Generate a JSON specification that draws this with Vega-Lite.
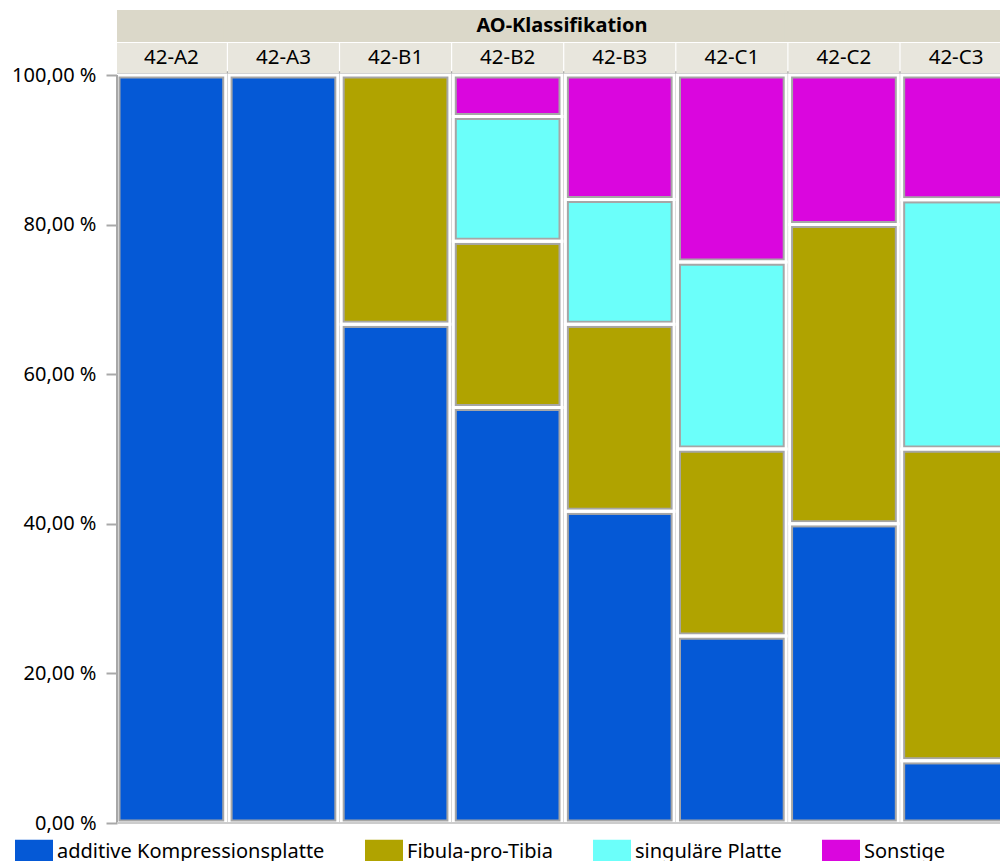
{
  "$schema": "https://vega.github.io/schema/vega-lite/v6.json",
  "autosize": {"type": "none"},
  "padding": {"left": 117, "top": 10, "right": 0, "bottom": 38},
  "width": 883,
  "height": 813,
  "background": "white",
  "config": {
    "view": {"stroke": null},
    "font": "Noto Sans",
    "text": {"font": "Noto Sans"}
  },
  "datasets": {
    "werte": [
      {"AO": "42-A2", "Versorgung": "additive Kompressionsplatte", "Nr": 1, "Anteil": 100},
      {"AO": "42-A3", "Versorgung": "additive Kompressionsplatte", "Nr": 1, "Anteil": 100},
      {"AO": "42-B1", "Versorgung": "additive Kompressionsplatte", "Nr": 1, "Anteil": 66.67},
      {"AO": "42-B1", "Versorgung": "Fibula-pro-Tibia", "Nr": 2, "Anteil": 33.33},
      {"AO": "42-B2", "Versorgung": "additive Kompressionsplatte", "Nr": 1, "Anteil": 55.56},
      {"AO": "42-B2", "Versorgung": "Fibula-pro-Tibia", "Nr": 2, "Anteil": 22.22},
      {"AO": "42-B2", "Versorgung": "singuläre Platte", "Nr": 3, "Anteil": 16.67},
      {"AO": "42-B2", "Versorgung": "Sonstige", "Nr": 4, "Anteil": 5.56},
      {"AO": "42-B3", "Versorgung": "additive Kompressionsplatte", "Nr": 1, "Anteil": 41.67},
      {"AO": "42-B3", "Versorgung": "Fibula-pro-Tibia", "Nr": 2, "Anteil": 25.0},
      {"AO": "42-B3", "Versorgung": "singuläre Platte", "Nr": 3, "Anteil": 16.67},
      {"AO": "42-B3", "Versorgung": "Sonstige", "Nr": 4, "Anteil": 16.67},
      {"AO": "42-C1", "Versorgung": "additive Kompressionsplatte", "Nr": 1, "Anteil": 25.0},
      {"AO": "42-C1", "Versorgung": "Fibula-pro-Tibia", "Nr": 2, "Anteil": 25.0},
      {"AO": "42-C1", "Versorgung": "singuläre Platte", "Nr": 3, "Anteil": 25.0},
      {"AO": "42-C1", "Versorgung": "Sonstige", "Nr": 4, "Anteil": 25.0},
      {"AO": "42-C2", "Versorgung": "additive Kompressionsplatte", "Nr": 1, "Anteil": 40.0},
      {"AO": "42-C2", "Versorgung": "Fibula-pro-Tibia", "Nr": 2, "Anteil": 40.0},
      {"AO": "42-C2", "Versorgung": "Sonstige", "Nr": 4, "Anteil": 20.0},
      {"AO": "42-C3", "Versorgung": "additive Kompressionsplatte", "Nr": 1, "Anteil": 8.33},
      {"AO": "42-C3", "Versorgung": "Fibula-pro-Tibia", "Nr": 2, "Anteil": 41.67},
      {"AO": "42-C3", "Versorgung": "singuläre Platte", "Nr": 3, "Anteil": 33.33},
      {"AO": "42-C3", "Versorgung": "Sonstige", "Nr": 4, "Anteil": 16.67}
    ],
    "ao": [
      {"AO": "42-A2"}, {"AO": "42-A3"}, {"AO": "42-B1"}, {"AO": "42-B2"},
      {"AO": "42-B3"}, {"AO": "42-C1"}, {"AO": "42-C2"}, {"AO": "42-C3"}
    ]
  },
  "layer": [
    {
      "data": {"name": "werte"},
      "mark": {"type": "bar", "clip": true, "stroke": "#a6a6a6", "strokeWidth": 7},
      "encoding": {
        "x": {
          "field": "AO", "type": "nominal",
          "scale": {
            "domain": ["42-A2", "42-A3", "42-B1", "42-B2", "42-B3", "42-C1", "42-C2", "42-C3"],
            "range": [0, 893.4],
            "paddingInner": 0.03,
            "paddingOuter": 0
          },
          "axis": null
        },
        "y": {
          "field": "Anteil", "type": "quantitative", "stack": "zero",
          "scale": {"domain": [0, 108.69], "nice": false, "zero": true},
          "axis": {
            "values": [0, 20, 40, 60, 80, 100],
            "labelExpr": "replace(format(datum.value, '.2f'), '.', ',') + ' %'",
            "labelFont": "Noto Sans",
            "labelFontSize": 20,
            "labelColor": "#000000",
            "labelPadding": 10,
            "tickSize": 11,
            "tickColor": "#a8a8a8",
            "tickWidth": 2,
            "domain": false,
            "grid": false,
            "title": null
          }
        },
        "color": {
          "field": "Versorgung", "type": "nominal",
          "scale": {
            "domain": ["additive Kompressionsplatte", "Fibula-pro-Tibia", "singuläre Platte", "Sonstige"],
            "range": ["#0559d6", "#b0a300", "#6bfffa", "#da06de"]
          },
          "legend": {
            "orient": "none",
            "legendX": -102,
            "legendY": 823,
            "direction": "horizontal",
            "title": null,
            "padding": 0,
            "symbolType": "M-1,-0.658H1V0.658H-1Z",
            "symbolSize": 1444,
            "symbolStrokeWidth": 0,
            "symbolOpacity": 1,
            "labelFont": "Noto Sans",
            "labelFontSize": 20,
            "labelColor": "#000000",
            "labelOffset": 4,
            "labelLimit": 400,
            "columnPadding": 40
          }
        },
        "order": {"field": "Nr", "type": "quantitative", "sort": "ascending"}
      }
    },
    {
      "data": {"name": "werte"},
      "mark": {"type": "bar", "clip": true, "fill": null, "fillOpacity": 0, "stroke": "#ffffff", "strokeWidth": 3},
      "encoding": {
        "x": {"field": "AO", "type": "nominal"},
        "y": {"field": "Anteil", "type": "quantitative", "stack": "zero"},
        "detail": {"field": "Versorgung", "type": "nominal"},
        "order": {"field": "Nr", "type": "quantitative", "sort": "ascending"}
      }
    },
    {
      "data": {"name": "ao"},
      "mark": {"type": "bar", "clip": true, "color": "#dbd8c9", "width": {"band": 1.1}},
      "encoding": {
        "x": {"field": "AO", "type": "nominal"},
        "y": {"datum": 104.41},
        "y2": {"datum": 108.69}
      }
    },
    {
      "data": {"name": "ao"},
      "mark": {"type": "bar", "clip": true, "color": "#e8e6dd", "width": {"band": 1.02}},
      "encoding": {
        "x": {"field": "AO", "type": "nominal"},
        "y": {"datum": 100.27},
        "y2": {"datum": 104.28}
      }
    },
    {
      "data": {"name": "ao"},
      "mark": {"type": "text", "clip": true, "font": "Noto Sans", "fontSize": 20.5, "color": "#000000", "baseline": "middle", "align": "center"},
      "encoding": {
        "x": {"field": "AO", "type": "nominal"},
        "y": {"datum": 102.27},
        "text": {"field": "AO"}
      }
    },
    {
      "data": {"values": [{"Titel": "AO-Klassifikation"}]},
      "mark": {"type": "text", "font": "Noto Sans", "fontSize": 20, "fontWeight": "bold", "color": "#000000", "baseline": "middle", "align": "center"},
      "encoding": {
        "x": {"datum": "42-B2", "bandPosition": 1},
        "y": {"datum": 106.55},
        "text": {"field": "Titel"}
      }
    },
    {
      "data": {"values": [{}]},
      "mark": {"type": "rule", "color": "#a8a8a8", "strokeWidth": 2},
      "encoding": {
        "x": {"datum": "42-A2", "bandPosition": 0},
        "y": {"datum": 0},
        "y2": {"datum": 100}
      }
    },
    {
      "data": {"values": [{}]},
      "mark": {"type": "rule", "color": "#cccccc", "strokeWidth": 2},
      "encoding": {
        "y": {"datum": 0}
      }
    }
  ]
}
